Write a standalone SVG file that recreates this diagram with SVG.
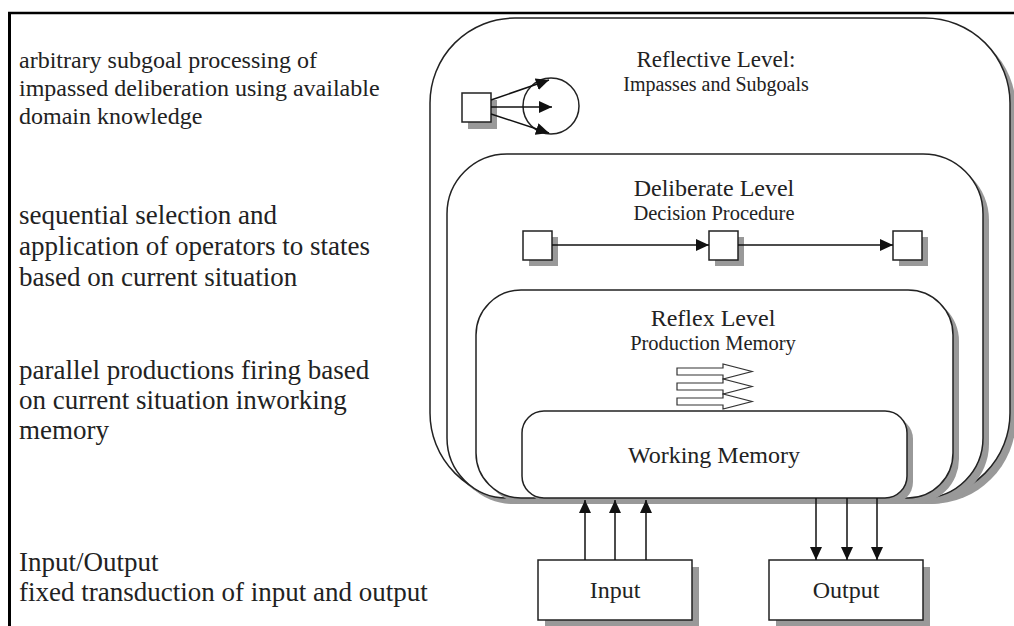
<svg xmlns="http://www.w3.org/2000/svg" width="1014" height="626" viewBox="0 0 1014 626">
<defs>
<style>
.t{font-family:"Liberation Serif","Times New Roman",serif;fill:#222}
.l24{font-size:24px}
.l27{font-size:27px}
.c{text-anchor:middle}
.box{fill:#fff;stroke:#222;stroke-width:1.5}
.sh{fill:#999}
.ln{stroke:#111;stroke-width:1.5;fill:none}
.hol{fill:#fff;stroke:#333;stroke-width:1.2}
</style>
<marker id="ahb" viewBox="0 0 10 10" refX="10" refY="5" markerWidth="13" markerHeight="12" markerUnits="userSpaceOnUse" orient="auto" preserveAspectRatio="none">
<path d="M0,0 L10,5 L0,10 z" fill="#111"/>
</marker>
</defs>
<rect width="1014" height="626" fill="#fff"/>
<g id="frame">
<line x1="8" y1="13" x2="1014" y2="13" stroke="#000" stroke-width="2.5"/>
<line x1="9.5" y1="12" x2="9.5" y2="626" stroke="#000" stroke-width="3"/>
</g>
<g id="descriptions" class="t">
<text class="l24" x="19" y="68">arbitrary subgoal processing of</text>
<text class="l24" x="19" y="96">impassed deliberation using available</text>
<text class="l24" x="19" y="124">domain knowledge</text>
<text class="l27" x="19" y="224">sequential selection and</text>
<text class="l27" x="19" y="255">application of operators to states</text>
<text class="l27" x="19" y="286">based on current situation</text>
<text class="l27" x="19" y="379">parallel productions firing based</text>
<text class="l27" x="19" y="409">on current situation inworking</text>
<text class="l27" x="19" y="439">memory</text>
<text class="l27" x="19" y="571">Input/Output</text>
<text class="l27" x="19" y="601">fixed transduction of input and output</text>
</g>
<g id="reflective">
<rect class="sh" x="436" y="24" width="580" height="480" rx="85"/>
<rect class="box" x="430" y="18" width="580" height="480" rx="85"/>
<text class="t c" x="716" y="67" font-size="23">Reflective Level:</text>
<text class="t c" x="716" y="91" font-size="20">Impasses and Subgoals</text>
<g id="subgoal-state">
<rect class="sh" x="468" y="100" width="29" height="29"/>
<rect class="box" x="462" y="93" width="29" height="29"/>
</g>
<circle id="subgoal" cx="551" cy="106" r="28" fill="none" stroke="#222" stroke-width="1.5"/>
</g>
<g id="deliberate">
<rect class="sh" x="453" y="160" width="536" height="344" rx="60"/>
<rect class="box" x="447" y="154" width="536" height="344" rx="60"/>
<text class="t c" x="714" y="196" font-size="24">Deliberate Level</text>
<text class="t c" x="714" y="220" font-size="20.5">Decision Procedure</text>
<g id="state1"><rect class="sh" x="529" y="237" width="29" height="29"/><rect class="box" x="523" y="231" width="29" height="29"/></g>
<g id="state2"><rect class="sh" x="715" y="237" width="29" height="29"/><rect class="box" x="709" y="231" width="29" height="29"/></g>
<g id="state3"><rect class="sh" x="899" y="237" width="29" height="29"/><rect class="box" x="893" y="231" width="29" height="29"/></g>
</g>
<g id="reflex">
<rect class="sh" x="482" y="296" width="477" height="208" rx="45"/>
<rect class="box" x="476" y="290" width="477" height="208" rx="45"/>
<text class="t c" x="713" y="326" font-size="24">Reflex Level</text>
<text class="t c" x="713" y="350" font-size="20.5">Production Memory</text>
<g id="productions">
<polygon class="hol" points="677,368 723,368 723,364 752,371.5 723,379 723,375 677,375"/>
<polygon class="hol" points="677,383 723,383 723,379 752,386.5 723,394 723,390 677,390"/>
<polygon class="hol" points="677,398 723,398 723,394 752,401.5 723,409 723,405 677,405"/>
</g>
</g>
<g id="working-memory">
<rect class="sh" x="528" y="417" width="385" height="87" rx="22"/>
<rect class="box" x="522" y="411" width="385" height="87" rx="22"/>
<text class="t c" x="714" y="463" font-size="24">Working Memory</text>
</g>
<g id="input">
<rect class="sh" x="545" y="567" width="154" height="60"/>
<rect class="box" x="538" y="560" width="154" height="60"/>
<text class="t c" x="615" y="598" font-size="24">Input</text>
</g>
<g id="output">
<rect class="sh" x="776" y="567" width="154" height="60"/>
<rect class="box" x="769" y="560" width="154" height="60"/>
<text class="t c" x="846" y="598" font-size="24">Output</text>
</g>
<g id="connectors">
<line class="ln" x1="491" y1="100" x2="549" y2="80" marker-end="url(#ahb)"/>
<line class="ln" x1="491" y1="107" x2="552" y2="107" marker-end="url(#ahb)"/>
<line class="ln" x1="491" y1="114" x2="549" y2="133" marker-end="url(#ahb)"/>
<line class="ln" x1="552" y1="245" x2="709" y2="245" marker-end="url(#ahb)"/>
<line class="ln" x1="738" y1="245" x2="893" y2="245" marker-end="url(#ahb)"/>
<line class="ln" x1="585" y1="560" x2="585" y2="500" marker-end="url(#ahb)"/>
<line class="ln" x1="615" y1="560" x2="615" y2="500" marker-end="url(#ahb)"/>
<line class="ln" x1="646" y1="560" x2="646" y2="500" marker-end="url(#ahb)"/>
<line class="ln" x1="816" y1="498" x2="816" y2="560" marker-end="url(#ahb)"/>
<line class="ln" x1="847" y1="498" x2="847" y2="560" marker-end="url(#ahb)"/>
<line class="ln" x1="877" y1="498" x2="877" y2="560" marker-end="url(#ahb)"/>
</g>
</svg>
